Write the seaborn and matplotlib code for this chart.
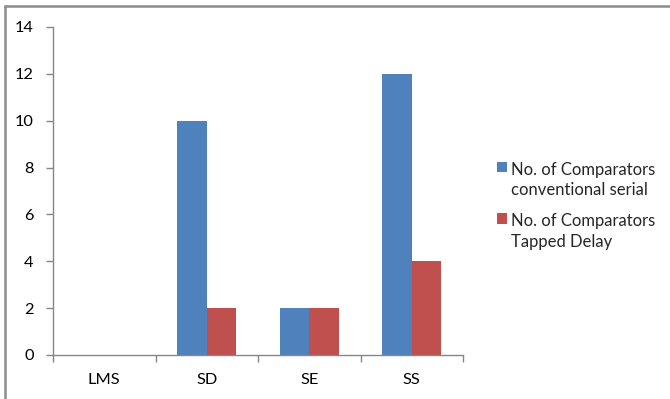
import matplotlib
matplotlib.use("Agg")
import matplotlib.pyplot as plt
from matplotlib.lines import Line2D
from matplotlib.ticker import FixedLocator
import numpy as np
import pandas as pd
import seaborn as sns

# Comparator counts per algorithm
categories = ["LMS", "SD", "SE", "SS"]
conventional_serial = [0, 10, 2, 12]
tapped_delay = [0, 2, 2, 4]
series_names = ["No. of Comparators\nconventional serial",
                "No. of Comparators\nTapped Delay"]
y_ticks = [0, 2, 4, 6, 8, 10, 12, 14]

df = pd.DataFrame({
    "Algorithm": categories * 2,
    "Comparators": conventional_serial + tapped_delay,
    "Series": [series_names[0]] * len(categories) + [series_names[1]] * len(categories),
})

sns.set_theme(style="white")
plt.rcParams["font.family"] = ["Lato", "DejaVu Sans"]

fig = plt.figure(figsize=(6.70, 3.99), dpi=100)
ax = fig.add_axes([53 / 670, 1 - 355 / 399, 410 / 670, 328 / 399])

palette = ["#4F81BD", "#C0504D"]
sns.barplot(data=df, x="Algorithm", y="Comparators", hue="Series",
            palette=palette, width=0.573, gap=0, dodge=True,
            saturation=1, linewidth=0, ax=ax)

axis_grey = "#868686"
tick_size = 11.8
ax.set_xlim(-0.5, len(categories) - 0.5)
ax.set_ylim(0, 14)
ax.set_xlabel("")
ax.set_ylabel("")

# Category boundaries carry the tick marks; the names sit at the centres
ax.xaxis.set_major_locator(FixedLocator(np.arange(-0.5, len(categories), 1.0)))
ax.xaxis.set_minor_locator(FixedLocator(np.arange(len(categories))))
ax.set_xticklabels([], minor=False)
ax.set_xticklabels(categories, minor=True)
ax.tick_params(axis="x", which="major", bottom=True, length=5, width=1, color=axis_grey)
ax.tick_params(axis="x", which="minor", bottom=True, length=0, pad=13,
               labelsize=tick_size, labelcolor="black")

ax.set_yticks(y_ticks)
ax.tick_params(axis="y", left=True, length=5, width=1, color=axis_grey, pad=9,
               labelsize=tick_size, labelcolor="black")

for side in ("top", "right"):
    ax.spines[side].set_visible(False)
for side in ("left", "bottom"):
    ax.spines[side].set_color(axis_grey)
    ax.spines[side].set_linewidth(1)

leg = ax.legend(loc="upper left", bbox_to_anchor=(490 / 670, 1 - 155 / 399),
                bbox_transform=fig.transFigure, frameon=False, fontsize=12,
                handlelength=0.6, handleheight=0.6, handletextpad=0.25,
                labelspacing=0.9, borderaxespad=0, title=None)
for text in leg.get_texts():
    text.set_linespacing(1.35)

# Put each swatch beside the first line of its two-line label
for column in leg._legend_handle_box.get_children():
    for row in column.get_children():
        row.align = "top"

# Chart frame edges
frame_grey = "#8C8C8C"
fig.add_artist(Line2D([5 / 670, 5 / 670], [0, 1 - 6 / 399], transform=fig.transFigure,
                      color=frame_grey, linewidth=1.8))
fig.add_artist(Line2D([5 / 670, 1], [1 - 6 / 399, 1 - 6 / 399], transform=fig.transFigure,
                      color=frame_grey, linewidth=1.8))

fig.savefig("out.png", dpi=100)
